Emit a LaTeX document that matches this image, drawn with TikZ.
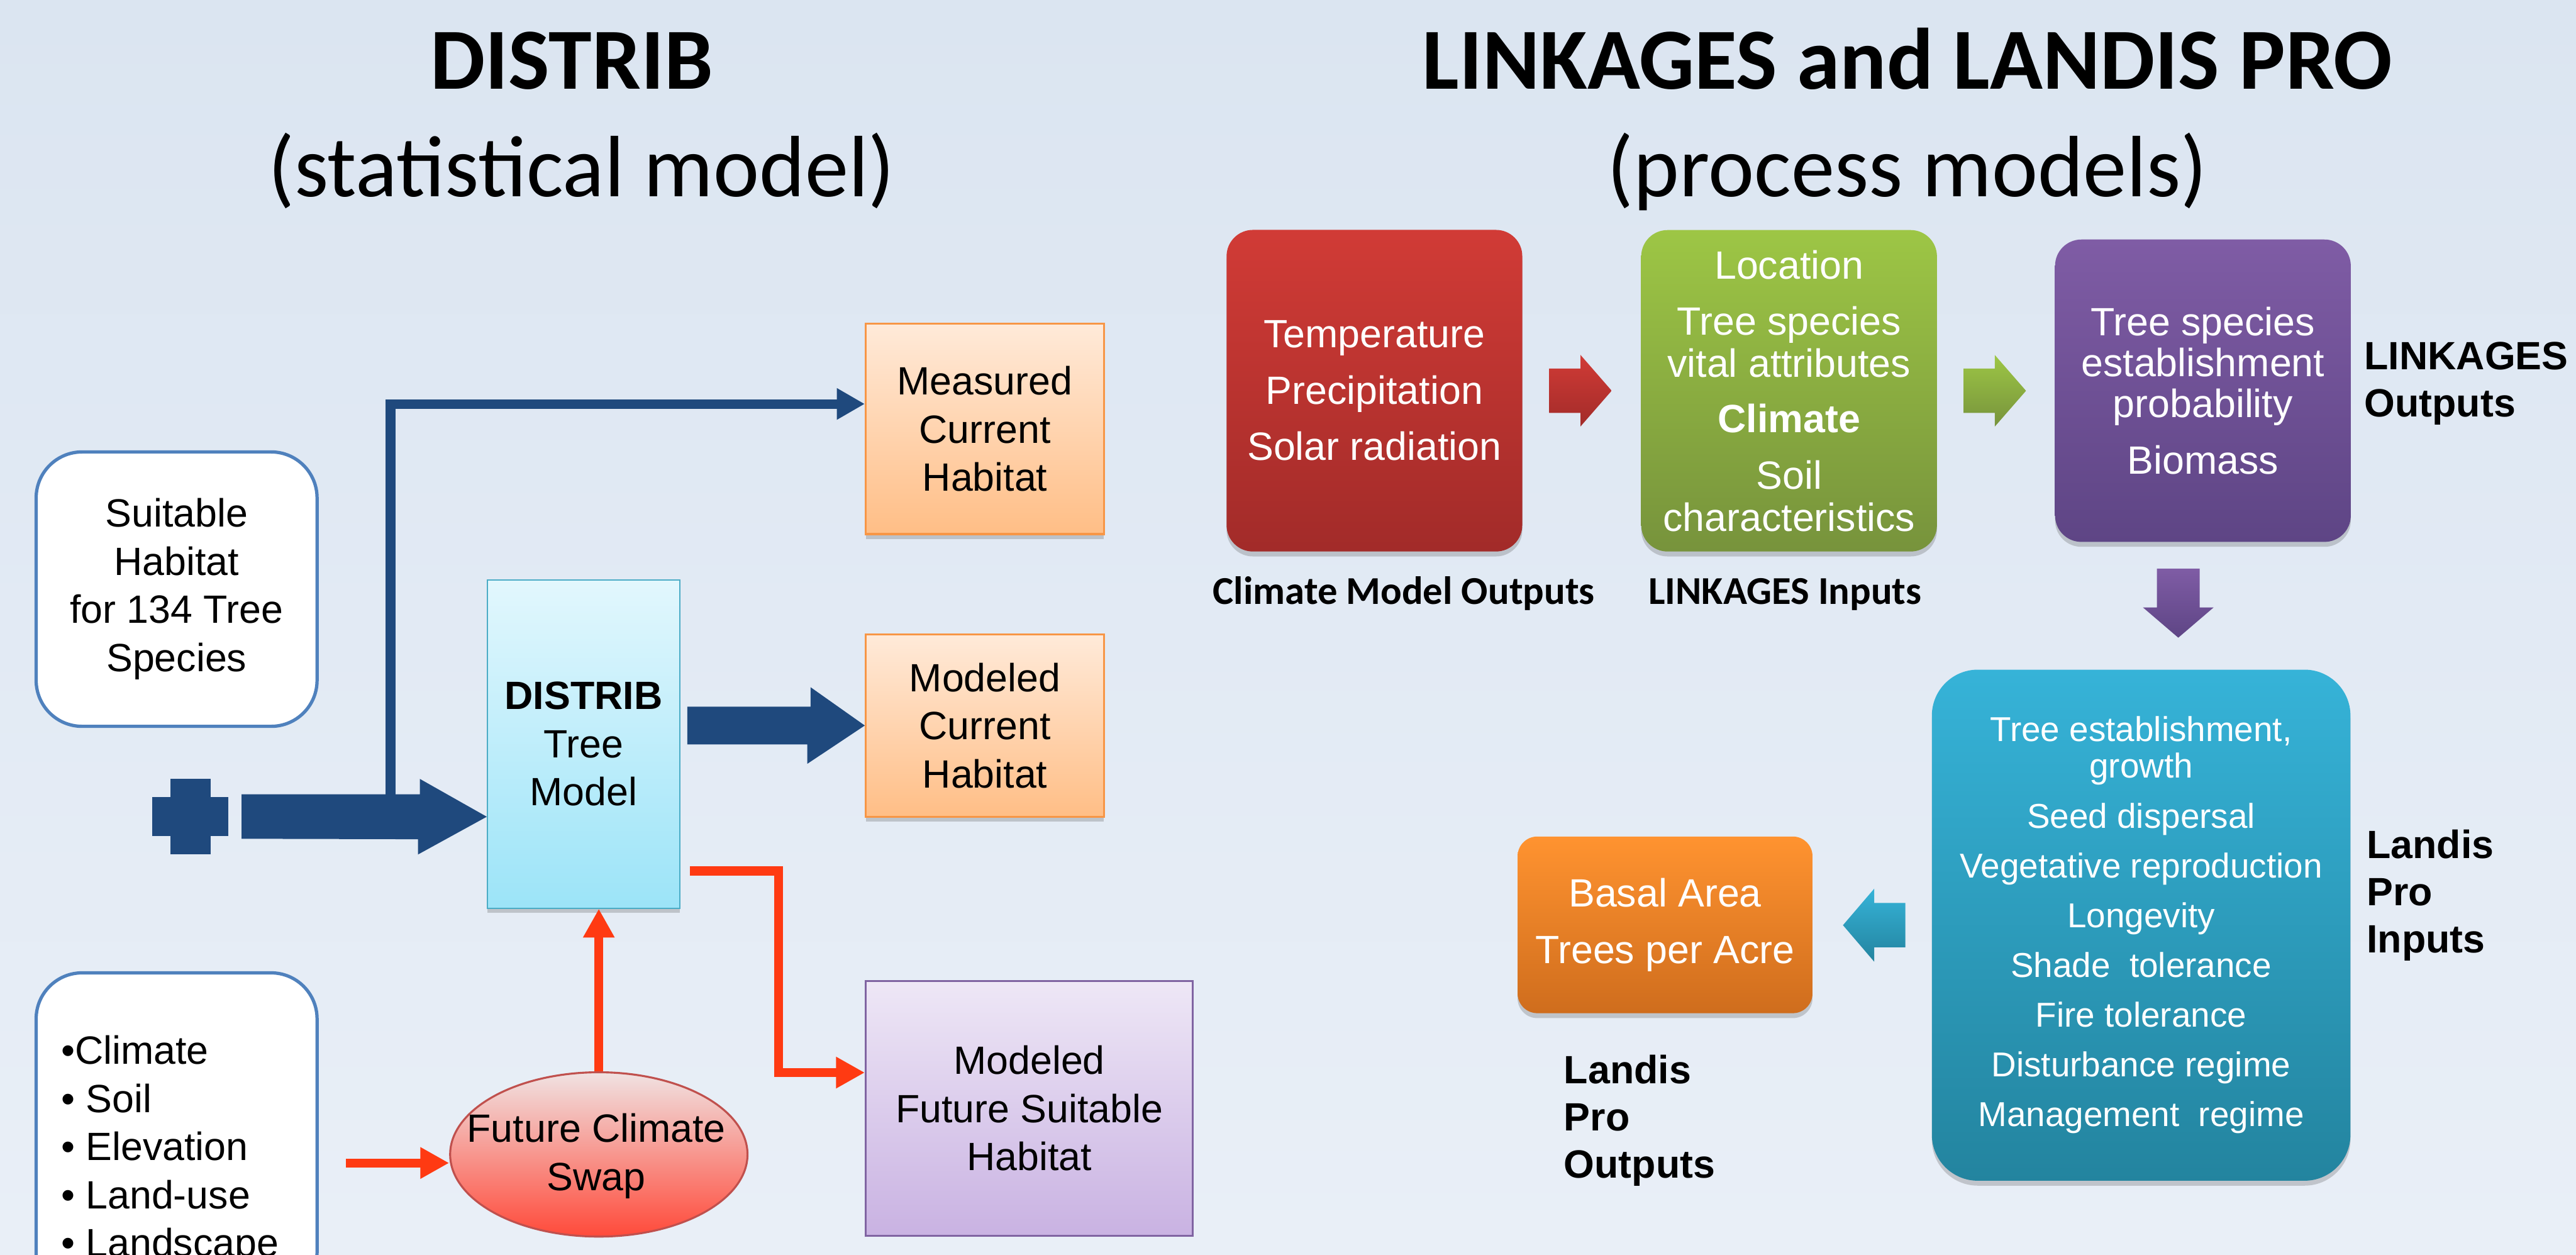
\documentclass[tikz,border=0pt]{standalone}
\usepackage{fontspec}
\setmainfont{Liberation Sans}
\newfontfamily\calib{Carlito}
\usepackage{tikz}
\usetikzlibrary{arrows.meta,calc,shapes.geometric,shadows}
\definecolor{bgtop}{HTML}{DBE5F1}
\definecolor{bgbot}{HTML}{E9EFF7}
\definecolor{navy}{HTML}{1F497D}
\definecolor{hot}{HTML}{FF3A12}
\definecolor{boxblue}{HTML}{4F81BD}
\definecolor{cyantop}{HTML}{E2F7FD}
\definecolor{cyanbot}{HTML}{9CE4F8}
\definecolor{cyanline}{HTML}{4BACC6}
\definecolor{peachtop}{HTML}{FFEAD9}
\definecolor{peachbot}{HTML}{FFBE86}
\definecolor{peachline}{HTML}{F79646}
\definecolor{liltop}{HTML}{EEE7F6}
\definecolor{lilbot}{HTML}{C9B2E2}
\definecolor{lilline}{HTML}{8064A2}
\definecolor{swaptop}{HTML}{F0E2E2}
\definecolor{swapbot}{HTML}{FF4A3A}
\definecolor{swapline}{HTML}{C0504D}
\definecolor{redtop}{HTML}{D13B36}
\definecolor{redbot}{HTML}{A22B29}
\definecolor{greentop}{HTML}{9DC645}
\definecolor{greenbot}{HTML}{77933C}
\definecolor{purtop}{HTML}{7F5CA5}
\definecolor{purbot}{HTML}{5E4585}
\definecolor{tealtop}{HTML}{36B3D8}
\definecolor{tealbot}{HTML}{23849F}
\definecolor{orgtop}{HTML}{FF9330}
\definecolor{orgbot}{HTML}{CF6D1D}
\tikzset{
  title/.style={font=\calib\fontsize{53}{64}\selectfont, inner sep=0pt},
  txt/.style={font=\fontsize{24}{29.3}\selectfont, align=center, inner sep=0pt},
  lab/.style={font=\bfseries\fontsize{24}{28.8}\selectfont, align=left, inner sep=0pt},
  labc/.style={font=\calib\bfseries\fontsize{24}{29}\selectfont, inner sep=0pt},
  shad/.style={drop shadow={shadow xshift=0pt, shadow yshift=-3pt, opacity=0.3, fill=black!60}},
  inbox/.style={txt, draw=boxblue, line width=2pt, fill=white, rounded corners=28pt, minimum width=171pt},
  modelbox/.style={txt, draw=cyanline, line width=0.8pt, top color=cyantop, bottom color=cyanbot,
    minimum width=117pt, minimum height=199.6pt, shad},
  peach/.style={txt, draw=peachline, line width=1.2pt, top color=peachtop, bottom color=peachbot,
    minimum width=145pt, shad},
  lilac/.style={txt, draw=lilline, line width=1.2pt, top color=liltop, bottom color=lilbot,
    minimum width=199pt, minimum height=155pt},
  swapnode/.style={ellipse, inner sep=0pt, draw=swapline, line width=1.2pt, top color=swaptop, bottom color=swapbot,
    minimum width=181pt, minimum height=100pt},
  proc/.style={txt, text=white, rounded corners=16pt, minimum width=180pt, shad},
  navyline/.style={draw=navy, line width=5.8pt, -{Triangle[length=17pt,width=18pt]}},
  redline/.style={draw=hot, line width=5.5pt, -{Triangle[length=17.5pt,width=18pt]}}
}

\begin{document}
\begin{tikzpicture}[x=1pt,y=-1pt]
  \useasboundingbox (0,0) rectangle (1568,763.6);
  \shade[top color=bgtop, bottom color=bgbot] (0,0) rectangle (1568,763.6);

  % titles
  \node[title, anchor=base] (t1) at (348,54) {\bfseries DISTRIB};
  \node[title, anchor=base] (t2) at (354,119.7) {(statistical model)};
  \node[title, anchor=base] (t3) at (1161,54) {\bfseries LINKAGES and LANDIS PRO};
  \node[title, anchor=base] (t4) at (1161,119.7) {(process models)};

  % DISTRIB side
  \node[inbox, minimum height=167pt] (suit) at (107.5,358.5) {Suitable\\Habitat\\for 134 Tree\\Species};
  \node[inbox, minimum height=198pt] (vbox) at (107.5,691) {};
  \node[txt, align=left, anchor=north west] (vars) at (37,630)
    {\textbullet Climate\\\textbullet{} Soil\\\textbullet{} Elevation\\\textbullet{} Land-use\\\textbullet{} Landscape};
  \node[modelbox] (dist) at (355.2,452.8) {\textbf{DISTRIB}\\Tree\\Model};
  \node[peach, minimum height=128pt] (meas) at (599.5,261) {Measured\\Current\\Habitat};
  \node[peach, minimum height=111pt] (modc) at (599.5,441.5) {Modeled\\Current\\Habitat};
  \node[lilac] (fut) at (626.5,674.5) {Modeled\\Future Suitable\\Habitat};
  \node[swapnode] (swap) at (364.5,702.5) {};
  \node[txt] (swapt) at (363,703.5) {Future Climate\\Swap};

  % plus sign and thick arrows
  \fill[navy] (103.7,474) rectangle (128.3,520);
  \fill[navy] (92.6,485) rectangle (138.9,508.6);
  \coordinate (inA) at (147,497);
  \fill[navy] ($(inA)+(0,-13.7)$) -- ++(108.6,0) -- ++(0,-9.3) -- (inA -| dist.west)
    -- ++(-41.9,23) -- ++(0,-9.3) -- ($(inA)+(0,13.4)$) -- cycle;
  \coordinate (split) at (237.7,490);
  \draw[navyline] (split) |- ($(meas.west)+(0,-15.2)$);
  \coordinate (outA) at ($(dist.east |- modc.west)+(4.3,0)$);
  \fill[navy] ($(outA)+(0,-11.5)$) -- ++(75,0) -- ++(0,-11.8) -- (modc.west)
    -- ++(-35,23.3) -- ++(0,-11.8) -- ($(outA)+(0,11.5)$) -- cycle;

  % red connectors
  \draw[redline] ($(dist.east)+(5.8,77.2)$) -- ++(54,0) |- ($(fut.west)+(0,-21.8)$);
  \draw[redline] (swap.north) -- (swap.north |- dist.south);
  \coordinate (fcin) at (210.7,707.7);
  \draw[redline] (fcin) -- (fcin -| swap.west);

  % process models
  \node[proc, top color=redtop, bottom color=redbot, minimum height=195.7pt,
    font=\fontsize{24}{34.3}\selectfont] (clim) at (836.6,237.75)
    {Temperature\\Precipitation\\Solar radiation};
  \node[proc, top color=greentop, bottom color=greenbot, minimum height=195.6pt,
    font=\fontsize{24}{25.4}\selectfont] (lkin) at (1089,237.8)
    {Location\\[9pt]Tree species\\vital attributes\\[8.2pt]\textbf{Climate}\\[9.3pt]Soil\\characteristics};
  \node[proc, top color=purtop, bottom color=purbot, minimum height=184pt,
    font=\fontsize{24}{25}\selectfont] (lkout) at (1340.9,237.75)
    {Tree species\\establishment\\probability\\[9.5pt]Biomass};
  \node[proc, top color=tealtop, bottom color=tealbot, rounded corners=28pt,
    minimum width=254.8pt, minimum height=311pt, font=\fontsize{21}{30.3}\selectfont] (lpin) at (1303.3,563)
    {Tree establishment,\\[-8.1pt]growth\\Seed dispersal\\Vegetative reproduction\\Longevity\\Shade~~tolerance\\
     Fire tolerance\\Disturbance regime\\Management~~regime};
  \node[proc, top color=orgtop, bottom color=orgbot, rounded corners=12pt,
    minimum width=179.5pt, minimum height=107.5pt, font=\fontsize{24}{34.4}\selectfont] (lpout) at (1013.5,562.8)
    {Basal Area\\Trees per Acre};

  % labels
  \node[labc, anchor=base] (l1) at (854.5,367.7) {Climate Model Outputs};
  \node[labc, anchor=base] (l2) at (1086.5,367.7) {LINKAGES Inputs};
  \node[lab, anchor=north west] (l3) at (1439,208) {LINKAGES\\Outputs};
  \node[lab, anchor=north west] (l4) at (1440.5,504.7) {Landis\\Pro\\Inputs};
  \node[lab, anchor=north west] (l5) at (951.8,641.6) {Landis\\Pro\\Outputs};

  % block arrows between models
  \coordinate (a1) at ($(clim.east)+(16.2,0)$);
  \path[top color=redtop, bottom color=redbot] ($(a1)+(0,-13.5)$) -- ++(19,0) -- ++(0,-8.3) -- ++(19,21.8)
    -- ++(-19,21.8) -- ++(0,-8.3) -- ($(a1)+(0,13.5)$) -- cycle;
  \coordinate (a2) at ($(lkin.east)+(16,0)$);
  \path[top color=greentop, bottom color=greenbot] ($(a2)+(0,-13.5)$) -- ++(19,0) -- ++(0,-8.3) -- ++(19,21.8)
    -- ++(-19,21.8) -- ++(0,-8.3) -- ($(a2)+(0,13.5)$) -- cycle;
  \coordinate (a3) at ($(lkout.south)+(-15,16.1)$);
  \path[top color=purtop, bottom color=purbot] ($(a3)+(-13,0)$) -- ++(0,23.6) -- ++(-8.5,0) -- ++(21.5,18.4)
    -- ++(21.5,-18.4) -- ++(-8.5,0) -- ($(a3)+(13,0)$) -- cycle;
  \coordinate (a4) at ($(lpin.west)+(-15.9,0)$);
  \path[top color=tealtop, bottom color=tealbot] ($(a4)+(0,-13.5)$) -- ++(-19,0) -- ++(0,-8.7) -- ++(-19,22.2)
    -- ++(19,22.2) -- ++(0,-8.7) -- ($(a4)+(0,13.5)$) -- cycle;
\end{tikzpicture}
\end{document}
